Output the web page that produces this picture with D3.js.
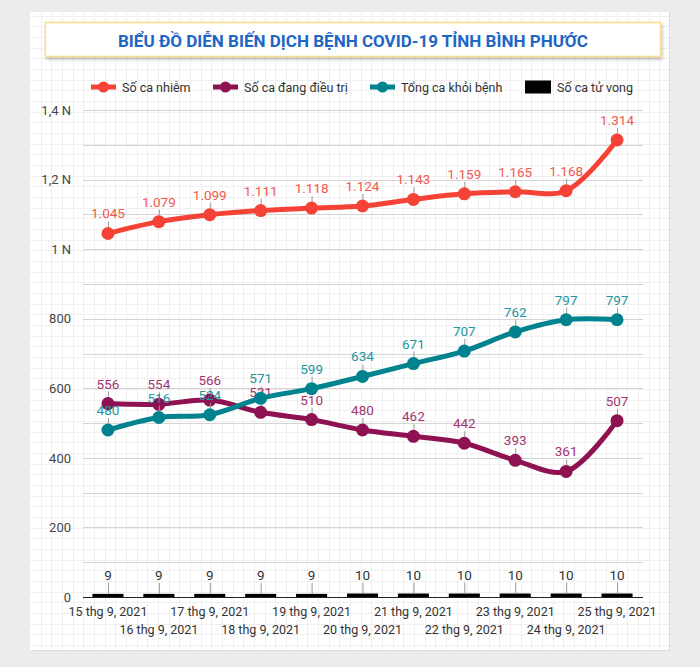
<!DOCTYPE html>
<html><head><meta charset="utf-8">
<script src="https://cdn.jsdelivr.net/npm/d3@7"></script>
<style>
html,body{margin:0;padding:0;background:#ececec;}
svg{display:block;font-family:Roboto,"Noto Sans",sans-serif;}
</style></head>
<body>
<svg id="c" width="700" height="667"></svg>
<script>
const title = "BIỂU ĐỒ DIỄN BIẾN DỊCH BỆNH COVID-19 TỈNH BÌNH PHƯỚC";
const dates = ["15 thg 9, 2021","16 thg 9, 2021","17 thg 9, 2021","18 thg 9, 2021","19 thg 9, 2021","20 thg 9, 2021","21 thg 9, 2021","22 thg 9, 2021","23 thg 9, 2021","24 thg 9, 2021","25 thg 9, 2021"];
const infected  = [1045,1079,1099,1111,1118,1124,1143,1159,1165,1168,1314];
const treating  = [556,554,566,531,510,480,462,442,393,361,507];
const recovered = [480,516,524,571,599,634,671,707,762,797,797];
const deaths    = [9,9,9,9,9,10,10,10,10,10,10];
const seriesNames = ["Số ca nhiễm","Số ca đang điều trị","Tổng ca khỏi bệnh","Số ca tử vong"];
const yTicks = [0,200,400,600,800,1000,1200,1400];

const colors = {inf:"#f44336", tre:"#8e1152", rec:"#00838f", dea:"#000000"};
const labelColors = {inf:"#f2594d", tre:"#a33570", rec:"#23959d", dea:"#333333"};

const vn = d3.formatLocale({decimal:",", thousands:".", grouping:[3], currency:["","₫"]});
const fmtNum = vn.format(",d");
const fmtTick = v => v >= 1000 ? vn.format(",.1~f")(v/1000) + " N" : String(v);

const svg = d3.select("#c");

// card
const card = {x:30, y:12, w:639, h:638};
svg.append("rect").attr("x",card.x+1).attr("y",card.y+1).attr("width",card.w).attr("height",card.h).attr("fill","#dcdcdc");
svg.append("rect").attr("x",card.x).attr("y",card.y).attr("width",card.w).attr("height",card.h).attr("fill","#ffffff");
const grid = svg.append("g").attr("stroke","#efefef").attr("stroke-width",1);
const gs = 10.67;
for (let x = card.x + 10.5; x < card.x + card.w; x += gs) grid.append("line").attr("x1",Math.round(x)+0.5).attr("x2",Math.round(x)+0.5).attr("y1",card.y).attr("y2",card.y+card.h);
for (let y = card.y + 3.5; y < card.y + card.h; y += gs) grid.append("line").attr("y1",Math.round(y)+0.5).attr("y2",Math.round(y)+0.5).attr("x1",card.x).attr("x2",card.x+card.w);

// title box
const defs = svg.append("defs");
const f = defs.append("filter").attr("id","sh").attr("x","-5%").attr("y","-30%").attr("width","110%").attr("height","170%");
f.append("feDropShadow").attr("dx",1).attr("dy",2).attr("stdDeviation",1.5).attr("flood-color","#000").attr("flood-opacity",0.3);
svg.append("rect").attr("x",45.5).attr("y",22.5).attr("width",615).attr("height",34).attr("fill","#fff").attr("stroke","#f7df8e").attr("stroke-width",1.5).attr("filter","url(#sh)");
svg.append("text").attr("x",353).attr("y",47).attr("text-anchor","middle").attr("font-size",16).attr("font-weight","bold")
  .attr("fill","#1e66c4").attr("textLength",470).attr("lengthAdjust","spacingAndGlyphs").text(title);

// scales
const x = d3.scaleBand().domain(d3.range(dates.length)).range([82.5,642.5]).paddingInner(0.39).paddingOuter(0.195);
const cx = i => x(i) + x.bandwidth()/2;
const y = d3.scaleLinear().domain([0,1400]).range([597,110]);

// gridlines
const gg = svg.append("g");
gg.selectAll("line").data(d3.range(100,1401,100)).join("line")
  .attr("x1",83).attr("x2",643).attr("y1",d=>Math.round(y(d))+0.5).attr("y2",d=>Math.round(y(d))+0.5)
  .attr("stroke","#d4d4d4").attr("stroke-width",1);

// y axis labels
const ya = svg.append("g").attr("transform","translate(71,0)")
  .call(d3.axisLeft(y).tickValues(yTicks).tickFormat(fmtTick).tickSize(0).tickPadding(0));
ya.select(".domain").remove();
ya.selectAll("text").attr("font-size",13).attr("fill","#444").attr("font-family","Roboto, sans-serif");

// death bars
svg.append("g").selectAll("rect").data(deaths).join("rect")
  .attr("x",(d,i)=>x(i)).attr("width",x.bandwidth())
  .attr("y",d=>y(d)).attr("height",d=>y(0)-y(d)).attr("fill",colors.dea);
const bl = svg.append("g");
bl.selectAll("line").data(deaths).join("line")
  .attr("x1",(d,i)=>cx(i)+0.5).attr("x2",(d,i)=>cx(i)+0.5).attr("y1",d=>y(d)).attr("y2",d=>y(d)-11)
  .attr("stroke","#999").attr("stroke-width",1);
bl.selectAll("text").data(deaths).join("text")
  .attr("x",(d,i)=>cx(i)).attr("y",d=>y(d)-14).attr("text-anchor","middle").attr("font-size",13.5).attr("fill",labelColors.dea)
  .text(d=>fmtNum(d));

// x axis
const xa = svg.append("g").attr("transform","translate(0,597)")
  .call(d3.axisBottom(x).tickFormat(i=>dates[i]).tickSize(0).tickPadding(0));
xa.select(".domain").attr("d","M83,0.5H643").attr("stroke","#222").attr("stroke-width",1.2);
xa.selectAll("text").attr("font-size",12.5).attr("fill","#333").attr("font-family","Roboto, sans-serif")
  .attr("dy",null).attr("y",(i)=> i%2===0 ? 19 : 37);

// lines
const line = d3.line().x((d,i)=>cx(i)).y(d=>y(d)).curve(d3.curveCatmullRom.alpha(0.5));
function drawSeries(data, key){
  const g = svg.append("g");
  g.append("path").attr("d",line(data)).attr("fill","none").attr("stroke",colors[key]).attr("stroke-width",5).attr("stroke-linejoin","round");
  g.selectAll("line").data(data).join("line")
    .attr("x1",(d,i)=>cx(i)+0.5).attr("x2",(d,i)=>cx(i)+0.5).attr("y1",d=>y(d)-6).attr("y2",d=>y(d)-12)
    .attr("stroke","#999").attr("stroke-width",1);
  g.selectAll("circle").data(data).join("circle")
    .attr("cx",(d,i)=>cx(i)).attr("cy",d=>y(d)).attr("r",6.5).attr("fill",colors[key]);
  return g;
}
const gInf = drawSeries(infected,"inf");
const gTre = drawSeries(treating,"tre");
const gRec = drawSeries(recovered,"rec");
function drawLabels(g, data, key){
  g.selectAll("text").data(data).join("text")
    .attr("x",(d,i)=>cx(i)).attr("y",d=>y(d)-15).attr("text-anchor","middle").attr("font-size",13.5)
    .attr("fill",labelColors[key]).text(d=>fmtNum(d));
}
drawLabels(gInf, infected, "inf");
drawLabels(gTre, treating, "tre");
drawLabels(gRec, recovered, "rec");

// legend
const lg = svg.append("g").attr("font-size",12.5).attr("fill","#333");
const legendItems = [
  {name:seriesNames[0], key:"inf", x:91, type:"line"},
  {name:seriesNames[1], key:"tre", x:213, type:"line"},
  {name:seriesNames[2], key:"rec", x:370, type:"line"},
  {name:seriesNames[3], key:"dea", x:525, type:"rect"}
];
legendItems.forEach(it=>{
  const g = lg.append("g").attr("transform",`translate(${it.x},87)`);
  if (it.type==="line"){
    g.append("line").attr("x1",0).attr("x2",25).attr("y1",0).attr("y2",0).attr("stroke",colors[it.key]).attr("stroke-width",5);
    g.append("circle").attr("cx",12.5).attr("cy",0).attr("r",5.5).attr("fill",colors[it.key]);
    g.append("text").attr("x",31).attr("y",4.5).attr("fill","#333").text(it.name);
  } else {
    g.append("rect").attr("x",0).attr("y",-6.5).attr("width",26).attr("height",13).attr("fill",colors[it.key]);
    g.append("text").attr("x",32).attr("y",4.5).attr("fill","#333").text(it.name);
  }
});
</script>
</body></html>
